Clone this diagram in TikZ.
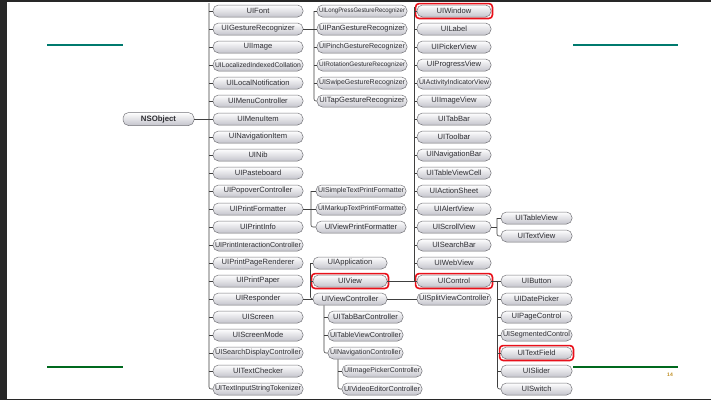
\documentclass[tikz,border=0pt]{standalone}
\usepackage{fontspec}
\usepackage{graphicx}
\setmainfont{Liberation Sans}
\definecolor{boxline}{RGB}{115,115,120}
\definecolor{boxbot}{RGB}{196,196,204}
\definecolor{txt}{RGB}{45,45,50}
\definecolor{hlred}{RGB}{232,16,26}
\definecolor{tealline}{RGB}{0,122,110}
\definecolor{greenline}{RGB}{0,105,30}
\definecolor{pagenum}{RGB}{190,140,30}
\definecolor{frame}{RGB}{40,40,40}
\newdimen\fitw
\newsavebox\fitbox
\newcommand\fitto[2]{\fitw=#1\relax\sbox\fitbox{#2}%
  \ifdim\wd\fitbox>\fitw
    \ifdim0.85\wd\fitbox>\fitw\resizebox{\fitw}{0.85\height}{\usebox\fitbox}%
    \else\resizebox{\fitw}{!}{\usebox\fitbox}\fi
  \else\usebox\fitbox\fi}
\newcommand\cls[5]{\node[cls,minimum width=#4pt] (#1) at (#2,#3) {\fitto{\dimexpr#4pt-4pt\relax}{#5}};}
\newcommand\hlbox[1]{\draw[hl] ([shift={(-1.2,-1.2)}]#1.north west) rectangle ([shift={(1.2,1.2)}]#1.south east);}
\tikzset{
  cls/.style={draw=boxline, line width=0.5pt, rounded corners=5.5pt, top color=white, bottom color=boxbot,
    minimum height=12pt, inner sep=0pt, font=\fontsize{7.6}{8}\selectfont, text=txt},
  conn/.style={draw=black!75, line width=0.6pt, rounded corners=2pt},
  hl/.style={draw=hlred, line width=1.6pt, rounded corners=3.5pt},
}
\begin{document}
\begin{tikzpicture}[x=1pt,y=-1pt]
\useasboundingbox (0,0) rectangle (711,400);
\fill[white] (0,0) rectangle (711,400);
\fill[frame] (0,0) rectangle (7,400);
\fill[frame] (0,0) rectangle (711,1.5);
\fill[frame] (0,398.5) rectangle (711,400);
% decorative rules
\draw[tealline, line width=2pt] (47,45) -- (123,45);
\draw[tealline, line width=2pt] (573,45) -- (678,45);
\draw[greenline, line width=2pt] (47,367) -- (123,367);
\draw[greenline, line width=2pt] (573,367) -- (678,367);
\node[text=pagenum, font=\fontsize{5}{6}\selectfont\bfseries, inner sep=0pt] (pnum) at (670,375) {14};
% root
\node[cls, minimum width=71pt, minimum height=13pt, font=\fontsize{7.8}{8}\selectfont\bfseries] (nsobj) at (158.5,119) {NSObject};
% column B
\cls{bfont}{258}{11}{90}{UIFont}
\cls{bgest}{258}{29}{90}{UIGestureRecognizer}
\cls{bimage}{258}{47}{90}{UIImage}
\cls{bcoll}{258}{65}{90}{UILocalizedIndexedCollation}
\cls{bnotif}{258}{83}{90}{UILocalNotification}
\cls{bmenuc}{258}{101}{90}{UIMenuController}
\cls{bmenui}{258}{119}{90}{UIMenuItem}
\cls{bnavi}{258}{137}{90}{UINavigationItem}
\cls{bnib}{258}{155}{90}{UINib}
\cls{bpaste}{258}{173}{90}{UIPasteboard}
\cls{bpopover}{258}{191}{90}{UIPopoverController}
\cls{bprintf}{258}{209}{90}{UIPrintFormatter}
\cls{bprinti}{258}{227}{90}{UIPrintInfo}
\cls{bprintic}{258}{245}{90}{UIPrintInteractionController}
\cls{bprintpr}{258}{263}{90}{UIPrintPageRenderer}
\cls{bprintp}{258}{281}{90}{UIPrintPaper}
\cls{bresp}{258}{299}{90}{UIResponder}
\cls{bscreen}{258}{317}{90}{UIScreen}
\cls{bscreenm}{258}{335}{90}{UIScreenMode}
\cls{bsearch}{258}{353}{90}{UISearchDisplayController}
\cls{bcheck}{258}{371}{90}{UITextChecker}
\cls{btoken}{258}{389}{90}{UITextInputStringTokenizer}
% gestures
\cls{glong}{362}{11}{90}{UILongPressGestureRecognizer}
\cls{gpan}{362}{29}{90}{UIPanGestureRecognizer}
\cls{gpinch}{362}{47}{90}{UIPinchGestureRecognizer}
\cls{grot}{362}{65}{90}{UIRotationGestureRecognizer}
\cls{gswipe}{362}{83}{90}{UISwipeGestureRecognizer}
\cls{gtap}{362}{101}{90}{UITapGestureRecognizer}
% print formatters
\cls{psimple}{361}{191}{90}{UISimpleTextPrintFormatter}
\cls{pmarkup}{361}{209}{90}{UIMarkupTextPrintFormatter}
\cls{pview}{361}{227}{90}{UIViewPrintFormatter}
% responder children
\cls{rapp}{350}{263}{74}{UIApplication}
\cls{rview}{350}{281}{74}{UIView}
\cls{rvc}{350}{299}{74}{UIViewController}
% view controller children
\cls{vtab}{365.5}{317}{75}{UITabBarController}
\cls{vtable}{365.5}{335}{75}{UITableViewController}
\cls{vnav}{365.5}{353}{75}{UINavigationController}
\cls{nimage}{382}{371}{80}{UIImagePickerController}
\cls{nvideo}{382}{389}{80}{UIVideoEditorController}
\cls{split}{454}{299}{74}{UISplitViewController}
% view children
\cls{dwin}{454}{11}{74}{UIWindow}
\cls{dlabel}{454}{29}{74}{UILabel}
\cls{dpicker}{454}{47}{74}{UIPickerView}
\cls{dprog}{454}{65}{74}{UIProgressView}
\cls{dact}{454}{83}{74}{UIActivityIndicatorView}
\cls{dimg}{454}{101}{74}{UIImageView}
\cls{dtab}{454}{119}{74}{UITabBar}
\cls{dtool}{454}{137}{74}{UIToolbar}
\cls{dnavbar}{454}{155}{74}{UINavigationBar}
\cls{dcell}{454}{173}{74}{UITableViewCell}
\cls{dsheet}{454}{191}{74}{UIActionSheet}
\cls{dalert}{454}{209}{74}{UIAlertView}
\cls{dscroll}{454}{227}{74}{UIScrollView}
\cls{dsearch}{454}{245}{74}{UISearchBar}
\cls{dweb}{454}{263}{74}{UIWebView}
\cls{dctrl}{454}{281}{74}{UIControl}
% scroll children
\cls{stable}{536.5}{218}{71}{UITableView}
\cls{stext}{536.5}{236}{71}{UITextView}
% control children
\cls{cbutton}{536.5}{281}{71}{UIButton}
\cls{cdate}{536.5}{299}{71}{UIDatePicker}
\cls{cpage}{536.5}{317}{71}{UIPageControl}
\cls{cseg}{536.5}{335}{71}{UISegmentedControl}
\cls{ctext}{536.5}{353}{71}{UITextField}
\cls{cslider}{536.5}{371}{71}{UISlider}
\cls{cswitch}{536.5}{389}{71}{UISwitch}
% highlights
\hlbox{dwin}
\hlbox{rview}
\hlbox{dctrl}
\hlbox{ctext}
% buses
\coordinate (busB) at (209,3);
\coordinate (busG) at (314,0);
\coordinate (busP) at (311,0);
\coordinate (busR) at (310.5,0);
\coordinate (busV) at (324,0);
\coordinate (busN) at (338,0);
\coordinate (busD) at (414,7);
\coordinate (busS) at (497,0);
\coordinate (busC) at (497.5,0);
% NSObject
\draw[conn] (nsobj.east) -- (nsobj.east -| busB);
\draw[conn] (busB) |- (btoken.west);
\foreach \n in {bfont,bgest,bimage,bcoll,bnotif,bmenuc,bmenui,bnavi,bnib,bpaste,bpopover,bprintf,bprinti,bprintic,bprintpr,bprintp,bresp,bscreen,bscreenm,bsearch,bcheck}
  \draw[conn] (\n.west -| busB) -- (\n.west);
% gestures
\draw[conn] (bgest.east) -- (bgest.east -| busG);
\draw[conn] (glong.west -| busG) |- (gtap.west);
\foreach \n in {glong,gpan,gpinch,grot,gswipe}
  \draw[conn] (\n.west -| busG) -- (\n.west);
% print formatters
\draw[conn] (bprintf.east) -- (pmarkup.west);
\draw[conn] (psimple.west -| busP) |- (pview.west);
\draw[conn] (psimple.west -| busP) -- (psimple.west);
% responder
\draw[conn] (bresp.east) -- (rvc.west);
\draw[conn] (rapp.west -| busR) |- (rvc.west);
\foreach \n in {rapp,rview}
  \draw[conn] (\n.west -| busR) -- (\n.west);
% view controller
\draw[conn] (rvc.east) -- (split.west);
\draw[conn] (rvc.south -| busV) |- (vnav.west);
\foreach \n in {vtab,vtable}
  \draw[conn] (\n.west -| busV) -- (\n.west);
\draw[conn] (vnav.south -| busN) |- (nvideo.west);
\draw[conn] (nimage.west -| busN) -- (nimage.west);
% view
\draw[conn] (rview.east) -- (dctrl.west);
\draw[conn] (busD) -- (dctrl.west -| busD);
\foreach \n in {dwin,dlabel,dpicker,dprog,dact,dimg,dtab,dtool,dnavbar,dcell,dsheet,dalert,dscroll,dsearch,dweb}
  \draw[conn] (\n.west -| busD) -- (\n.west);
% scroll view
\draw[conn] (dscroll.east) -- (dscroll.east -| busS);
\draw[conn] (stable.west -| busS) |- (stext.west);
\draw[conn] (stable.west -| busS) -- (stable.west);
% control
\draw[conn] (dctrl.east) -- (cbutton.west);
\draw[conn] (cbutton.west -| busC) |- (cswitch.west);
\foreach \n in {cdate,cpage,cseg,ctext,cslider}
  \draw[conn] (\n.west -| busC) -- (\n.west);
\end{tikzpicture}
\end{document}
